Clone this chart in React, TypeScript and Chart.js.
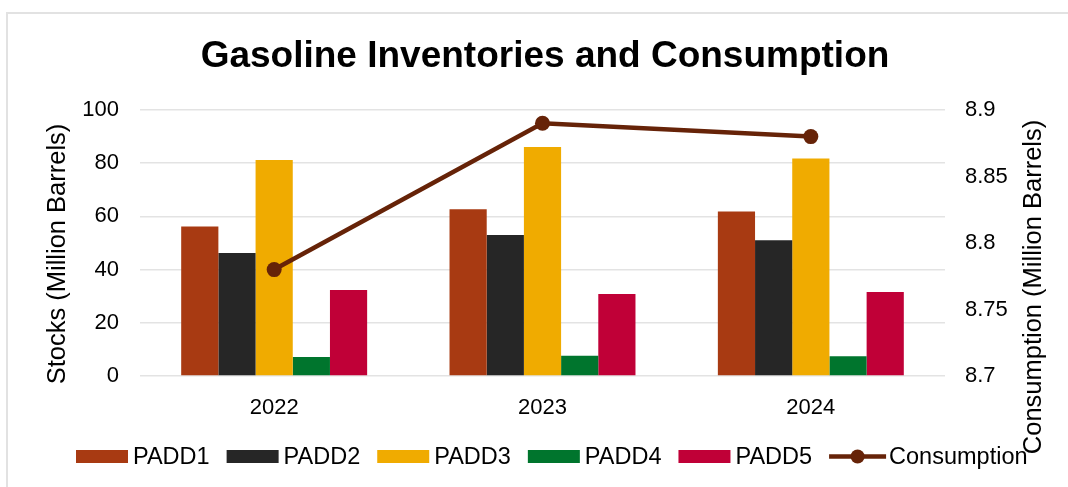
import React, { useEffect, useRef } from 'react';
import { Chart, registerables } from 'chart.js';

Chart.register(...registerables);

// ---- Data ----
const years = ['2022', '2023', '2024'];
const padd1 = [56.2, 62.7, 61.8];
const padd2 = [46.2, 53.0, 51.0];
const padd3 = [81.2, 86.1, 81.8];
const padd4 = [7.1, 7.6, 7.4];
const padd5 = [32.3, 30.8, 31.6];
const consumption = [8.78, 8.89, 8.88];

const seriesNames = ['PADD1', 'PADD2', 'PADD3', 'PADD4', 'PADD5', 'Consumption'];
const chartTitle = 'Gasoline Inventories and Consumption';
const leftAxisTitle = 'Stocks (Million Barrels)';
const rightAxisTitle = 'Consumption (Million Barrels)';

// ---- Styles ----
const colors = ['#A83A12', '#262626', '#F0AB00', '#00752D', '#C00037', '#662308'];
const FONT = '"Liberation Sans", Arial, sans-serif';

const decorPlugin = {
  id: 'decor',
  beforeDraw(chart: any) {
    const ctx = chart.ctx;
    ctx.save();
    ctx.fillStyle = '#ffffff';
    ctx.fillRect(0, 0, chart.width, chart.height);
    ctx.strokeStyle = '#e2e2e2';
    ctx.lineWidth = 2;
    ctx.beginPath();
    ctx.moveTo(7, chart.height);
    ctx.lineTo(7, 13);
    ctx.lineTo(chart.width, 13);
    ctx.stroke();
    ctx.restore();
  },
  afterDraw(chart: any) {
    const ctx = chart.ctx;
    ctx.save();
    // Title
    ctx.fillStyle = '#000';
    ctx.font = `bold 37px ${FONT}`;
    ctx.textAlign = 'center';
    ctx.textBaseline = 'alphabetic';
    ctx.fillText(chartTitle, 545, 67);

    // Axis titles
    ctx.font = `25.5px ${FONT}`;
    ctx.textBaseline = 'middle';
    ctx.save();
    ctx.translate(58, 254);
    ctx.rotate(-Math.PI / 2);
    ctx.fillText(leftAxisTitle, 0, 0);
    ctx.restore();
    ctx.save();
    ctx.translate(1034, 287);
    ctx.rotate(-Math.PI / 2);
    ctx.fillText(rightAxisTitle, 0, 0);
    ctx.restore();

    // Legend
    ctx.font = `23.5px ${FONT}`;
    ctx.textAlign = 'left';
    ctx.textBaseline = 'middle';
    let x = 76;
    const cy = 456.5;
    chart.data.datasets.forEach((ds: any) => {
      const isLine = ds.type === 'line';
      if (isLine) {
        ctx.strokeStyle = ds.borderColor;
        ctx.lineWidth = 4.5;
        ctx.beginPath();
        ctx.moveTo(x, cy);
        ctx.lineTo(x + 57, cy);
        ctx.stroke();
        ctx.fillStyle = ds.borderColor;
        ctx.beginPath();
        ctx.arc(x + 28.5, cy, 7, 0, Math.PI * 2);
        ctx.fill();
        x += 60;
      } else {
        ctx.fillStyle = ds.backgroundColor;
        ctx.fillRect(x, cy - 6.5, 52, 13);
        x += 57;
      }
      ctx.fillStyle = '#000';
      ctx.fillText(ds.label, x, cy + 1);
      x += ctx.measureText(ds.label).width + 17;
    });
    ctx.restore();
  },
};

export default function App() {
  const ref = useRef<HTMLCanvasElement | null>(null);

  useEffect(() => {
    if (!ref.current) return;
    const barSeries = [padd1, padd2, padd3, padd4, padd5];
    const datasets: any[] = barSeries.map((d, i) => ({
      type: 'bar',
      label: seriesNames[i],
      data: d,
      backgroundColor: colors[i],
      borderWidth: 0,
      yAxisID: 'y',
      order: 1,
      categoryPercentage: 0.693,
      barPercentage: 1,
    }));
    datasets.push({
      type: 'line',
      label: seriesNames[5],
      data: consumption,
      borderColor: colors[5],
      backgroundColor: colors[5],
      pointBackgroundColor: colors[5],
      pointBorderColor: colors[5],
      borderWidth: 4.5,
      pointRadius: 7.5,
      pointBorderWidth: 0,
      yAxisID: 'y1',
      order: 0,
      tension: 0,
    });

    const chart = new Chart(ref.current, {
      type: 'bar',
      data: { labels: years, datasets },
      options: {
        responsive: false,
        animation: false,
        layout: { padding: { top: 110, bottom: 56, left: 0, right: 0 } },
        plugins: {
          legend: { display: false },
          title: { display: false },
          tooltip: { enabled: false },
        },
        scales: {
          x: {
            grid: { display: false },
            border: { display: false },
            ticks: { font: { family: FONT, size: 22 }, color: '#000', padding: 11 },
            afterFit: (s: any) => { s.height = 55; },
          },
          y: {
            position: 'left',
            min: 0,
            max: 100,
            ticks: { stepSize: 20, font: { family: FONT, size: 22 }, color: '#000', padding: 21 },
            grid: { color: '#e3e3e3', lineWidth: 1.5, drawTicks: false },
            border: { display: false },
            afterFit: (s: any) => { s.width = 140; },
          },
          y1: {
            position: 'right',
            min: 8.7,
            max: 8.9,
            ticks: {
              stepSize: 0.05,
              font: { family: FONT, size: 22 },
              color: '#000',
              padding: 20,
              callback: (v: any) => String(Number(Number(v).toFixed(2))),
            },
            grid: { display: false, drawTicks: false },
            border: { display: false },
            afterFit: (s: any) => { s.width = 123; },
          },
        },
      } as any,
      plugins: [decorPlugin],
    });
    return () => chart.destroy();
  }, []);

  return (
    <div style={{ position: 'absolute', left: 0, top: 0, width: 1068, height: 487 }}>
      <canvas ref={ref} width={1068} height={487} style={{ display: 'block', width: 1068, height: 487 }} />
    </div>
  );
}
